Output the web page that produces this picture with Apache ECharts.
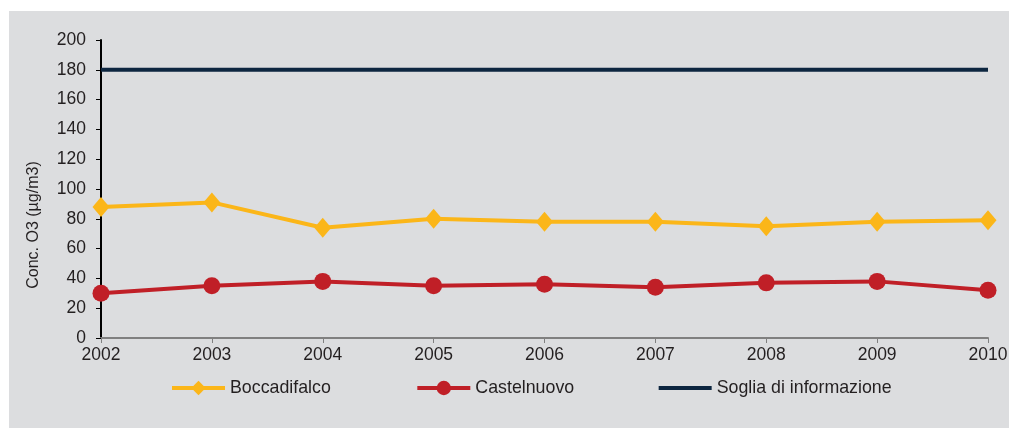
<!DOCTYPE html>
<html>
<head>
<meta charset="utf-8">
<script src="https://cdn.jsdelivr.net/npm/echarts@6/dist/echarts.min.js"></script>
<style>
  html, body { margin: 0; padding: 0; background: #ffffff; }
  #chart { position: absolute; left: 9px; top: 11px; width: 1000px; height: 417px; background: #dcdddf; }
</style>
</head>
<body>
<div id="chart"></div>
<script>
// dati
const years = ['2002', '2003', '2004', '2005', '2006', '2007', '2008', '2009', '2010'];
const boccadifalco = [88, 91, 74, 80, 78, 78, 75, 78, 79];
const castelnuovo = [30, 35, 38, 35, 36, 34, 37, 38, 32];
const soglia = [180, 180, 180, 180, 180, 180, 180, 180, 180];

const font = 'Liberation Sans, Arial, sans-serif';
const chart = echarts.init(document.getElementById('chart'));

const option = {
  animation: false,
  textStyle: { fontFamily: font },
  grid: { left: 92, right: 21, top: 29, bottom: 90, outerBoundsMode: 'none' },
  legend: {
    left: 156, top: 363,
    itemWidth: 53, itemHeight: 18, itemGap: 84.5,
    lineStyle: { width: 4 },
    textStyle: { fontSize: 17.8, color: '#231f20', fontFamily: font },
    data: [
      'Boccadifalco',
      'Castelnuovo',
      { name: 'Soglia di informazione', icon: 'path://M0,0H53V4H0Z' }
    ]
  },
  graphic: [{
    type: 'text',
    x: 25, y: 214,
    rotation: Math.PI / 2,
    style: { text: 'Conc. O3 (µg/m3)', font: '16px ' + font, fill: '#231f20', align: 'center', verticalAlign: 'middle' }
  }],
  xAxis: {
    type: 'category',
    data: years,
    boundaryGap: false,
    axisLine: { lineStyle: { color: '#808080', width: 2 } },
    axisTick: { alignWithLabel: true, length: 5, lineStyle: { color: '#808080', width: 1 } },
    axisLabel: { fontSize: 17.5, color: '#231f20', margin: 8 }
  },
  yAxis: {
    type: 'value',
    min: 0, max: 200, interval: 20,
    axisLine: { show: true, lineStyle: { color: '#000000', width: 2 } },
    axisTick: { show: true, length: 5, lineStyle: { color: '#000000', width: 1 } },
    axisLabel: { fontSize: 17.5, color: '#231f20', margin: 15 },
    splitLine: { show: false }
  },
  series: [
    {
      name: 'Boccadifalco', type: 'line', data: boccadifalco,
      symbol: 'diamond', symbolSize: [17, 20],
      lineStyle: { color: '#fbb619', width: 4 },
      itemStyle: { color: '#fbb619' }
    },
    {
      name: 'Castelnuovo', type: 'line', data: castelnuovo,
      symbol: 'circle', symbolSize: 17,
      lineStyle: { color: '#c01f27', width: 4 },
      itemStyle: { color: '#c01f27' }
    },
    {
      name: 'Soglia di informazione', type: 'line', data: soglia,
      symbol: 'none',
      lineStyle: { color: '#0d2640', width: 4 },
      itemStyle: { color: '#0d2640' }
    }
  ]
};

chart.setOption(option);
</script>
</body>
</html>
